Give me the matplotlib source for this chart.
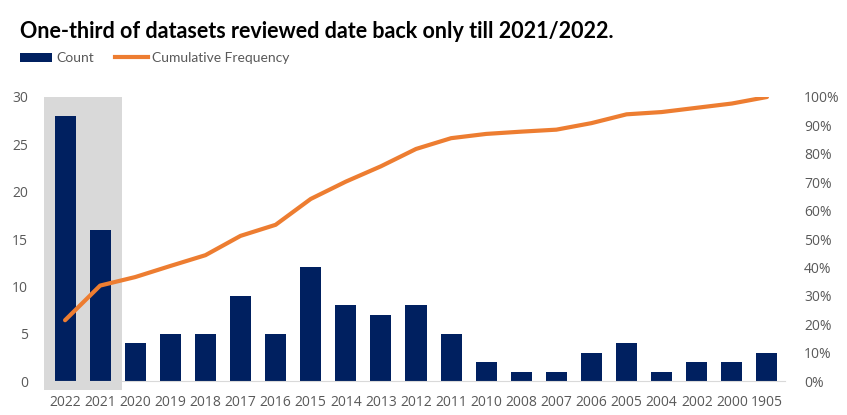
import matplotlib
matplotlib.use("Agg")
import matplotlib.pyplot as plt
from matplotlib.patches import Rectangle
from matplotlib.lines import Line2D
from matplotlib.ticker import FuncFormatter

years = ["2022", "2021", "2020", "2019", "2018", "2017", "2016", "2015", "2014", "2013",
         "2012", "2011", "2010", "2008", "2007", "2006", "2005", "2004", "2002", "2000", "1905"]
counts = [28, 16, 4, 5, 5, 9, 5, 12, 8, 7, 8, 5, 2, 1, 1, 3, 4, 1, 2, 2, 3]
cum_freq = [0.214, 0.336, 0.366, 0.405, 0.443, 0.511, 0.550, 0.641, 0.702, 0.756,
            0.817, 0.855, 0.870, 0.878, 0.885, 0.908, 0.939, 0.947, 0.962, 0.977, 1.000]
title = "One-third of datasets reviewed date back only till 2021/2022."

plt.rcParams['font.family'] = ['Open Sans', 'DejaVu Sans']
grey = "#595959"
navy = "#002060"
orange = "#ED7D31"

fig = plt.figure(figsize=(8.47, 4.15), dpi=100)
W, H = 847, 415
left, right, bottom, top = 47.5, 784.5, 381, 97
ax = fig.add_axes([left / W, 1 - bottom / H, (right - left) / W, (bottom - top) / H])
x = list(range(len(years)))

ax.add_patch(Rectangle((-0.6, -0.95), 2.22, 30.95, facecolor="#d9d9d9", edgecolor="none",
                       clip_on=False, zorder=0))
ax.bar(x, counts, width=0.6, color=navy, zorder=2)
ax.set_xlim(-0.5, len(years) - 0.5)
ax.set_ylim(0, 30)
ax.set_yticks([0, 5, 10, 15, 20, 25, 30])
ax.set_xticks(x)
ax.set_xticklabels(years)
for s in ["top", "right", "left"]:
    ax.spines[s].set_visible(False)
ax.spines["bottom"].set_color("#d9d9d9")
ax.spines["bottom"].set_zorder(3)
ax.tick_params(axis="both", length=0, colors=grey, labelsize=10)
ax.tick_params(axis="x", pad=10)
ax.tick_params(axis="y", pad=14)
ax.patch.set_alpha(0)

ax2 = ax.twinx()
ax2.plot(x, cum_freq, color=orange, lw=3, solid_capstyle="round", zorder=3)
ax2.set_ylim(0, 1)
ax2.set_yticks([i / 10 for i in range(11)])
ax2.yaxis.set_major_formatter(FuncFormatter(lambda v, p: f"{v*100:.0f}%"))
for s in ["top", "right", "left", "bottom"]:
    ax2.spines[s].set_visible(False)
ax2.tick_params(axis="y", length=0, colors=grey, labelsize=10, pad=14)

fig.text(20 / W, 1 - 31 / H, title, fontsize=15.5, fontweight="bold", color="black",
         va="center", ha="left", family=["Lato", "DejaVu Sans"])

handles = [Rectangle((0, 0), 1, 1, facecolor=navy),
           Line2D([0], [0], color=orange, lw=3)]
fig.legend(handles, ["Count", "Cumulative Frequency"], loc="center left",
           bbox_to_anchor=(7 / W, 1 - 58 / H), ncol=2, frameon=False,
           prop={"family": ["Lato", "DejaVu Sans"], "size": 10},
           labelcolor=grey, handlelength=2.35, handletextpad=0.3, columnspacing=1.5,
           handleheight=0.6)

fig.savefig("out.png", dpi=100)
